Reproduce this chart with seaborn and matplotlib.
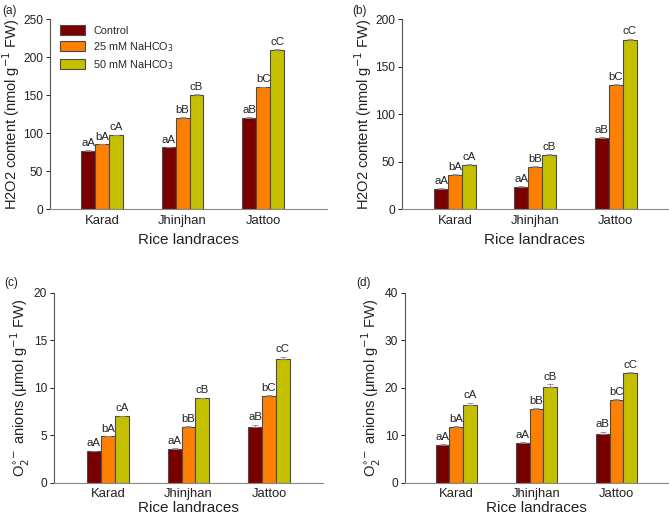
import numpy as np
import pandas as pd
import matplotlib
matplotlib.use("Agg")
import matplotlib.pyplot as plt
import seaborn as sns

sns.set_style("ticks")
plt.rcParams['font.family'] = ['Liberation Sans', 'DejaVu Sans']

landraces = ["Karad", "Jhinjhan", "Jattoo"]
treatments = ["Control", "25 mM NaHCO$_3$", "50 mM NaHCO$_3$"]
colors = ["#7a0000", "#ff8000", "#c4c000"]

# panel values: rows = treatment, cols = landrace
h2o2_a = [[76, 81, 120], [85, 120, 160], [97, 150, 209]]
h2o2_a_err = [[1.0, 0.8, 1.2], [0.8, 1.0, 1.0], [1.0, 1.0, 1.5]]
h2o2_b = [[21.5, 23.5, 75], [36, 44.5, 130.5], [46.5, 57, 178]]
h2o2_b_err = [[0.5, 0.5, 0.8], [0.5, 0.6, 0.8], [0.5, 0.6, 1.2]]
o2_c = [[3.35, 3.6, 5.85], [4.9, 5.9, 9.15], [7.0, 8.9, 13.0]]
o2_c_err = [[0.05, 0.1, 0.3], [0.05, 0.05, 0.1], [0.08, 0.08, 0.3]]
o2_d = [[8.1, 8.5, 10.3], [11.8, 15.6, 17.5], [16.4, 20.2, 23.1]]
o2_d_err = [[0.1, 0.1, 0.5], [0.1, 0.1, 0.1], [0.5, 0.6, 0.2]]

letters = [["aA", "aA", "aB"], ["bA", "bB", "bC"], ["cA", "cB", "cC"]]

h2o2_label = "H2O2 content (nmol g$^{-1}$ FW)"
o2_label = "O$_2^{\\circ\\!-}$ anions (\u03bcmol g$^{-1}$ FW)"

panels = [
    dict(tag="(a)", vals=h2o2_a, err=h2o2_a_err, ymax=250, step=50, ylabel=h2o2_label,
         rect=[0.0747, 0.5965, 0.4143, 0.3668], xlim=(-0.646, 2.795), legend=True,
         tagpos=(0.004, 0.99), xlpad=4),
    dict(tag="(b)", vals=h2o2_b, err=h2o2_b_err, ymax=200, step=50, ylabel=h2o2_label,
         rect=[0.601, 0.5965, 0.397, 0.3668], xlim=(-0.658, 2.646), legend=False,
         tagpos=(0.527, 0.99), xlpad=4),
    dict(tag="(c)", vals=o2_c, err=o2_c_err, ymax=20, step=5, ylabel=o2_label,
         rect=[0.0807, 0.0676, 0.4021, 0.3668], xlim=(-0.67, 2.67), legend=False,
         tagpos=(0.007, 0.465), xlpad=1),
    dict(tag="(d)", vals=o2_d, err=o2_d_err, ymax=40, step=10, ylabel=o2_label,
         rect=[0.605, 0.0676, 0.393, 0.3668], xlim=(-0.646, 2.64), legend=False,
         tagpos=(0.532, 0.465), xlpad=1),
]

fig = plt.figure(figsize=(6.69, 5.18), dpi=100)

for p in panels:
    ax = fig.add_axes(p["rect"])
    rows = []
    for ti, t in enumerate(treatments):
        for li, l in enumerate(landraces):
            rows.append(dict(landrace=l, treatment=t, value=p["vals"][ti][li],
                             err=p["err"][ti][li], letter=letters[ti][li]))
    df = pd.DataFrame(rows)
    sns.barplot(data=df, x="landrace", y="value", hue="treatment", order=landraces,
                hue_order=treatments, palette=colors, width=0.52, gap=0,
                saturation=1, edgecolor="#4a4a4a", linewidth=0.8, errorbar=None,
                ax=ax, legend=p["legend"])

    # error bars and letters on top of each bar
    bars = [b for b in ax.patches if b.get_height() > 0][:9]
    for b, (_, r) in zip(bars, df.iterrows()):
        cx = b.get_x() + b.get_width() / 2
        top = b.get_height()
        ax.errorbar(cx, top, yerr=[[0], [r["err"]]], fmt="none", ecolor="#888888",
                    elinewidth=0.6, capsize=2, capthick=0.6)
        ax.text(cx, top + r["err"] + p["ymax"] * 0.012, r["letter"], ha="center",
                va="bottom", fontsize=8.2, color="#222222")

    ax.set_xlim(*p["xlim"])
    ax.set_ylim(0, p["ymax"])
    ax.set_yticks(np.arange(0, p["ymax"] + 1, p["step"]))
    ax.tick_params(axis="y", direction="out", length=3, width=0.7, labelsize=8.6,
                   colors="#222222", pad=2)
    ax.tick_params(axis="x", length=0, labelsize=9.4, pad=4.5 if p["xlpad"] > 2 else 3.5,
                   colors="#222222")
    ax.set_xlabel("Rice landraces", fontsize=11, color="#222222", labelpad=p["xlpad"])
    ax.set_ylabel(p["ylabel"], fontsize=10.5, color="#222222", labelpad=1)
    sns.despine(ax=ax)
    ax.spines["left"].set_color("#555555")
    ax.spines["bottom"].set_color("#888888")
    ax.spines["left"].set_linewidth(0.8)
    ax.spines["bottom"].set_linewidth(0.8)

    if p["legend"]:
        ax.legend(loc="upper left", bbox_to_anchor=(0.0, 1.02), frameon=False,
                  fontsize=7.8, handlelength=2.3, handleheight=1.0,
                  labelspacing=0.4, title=None)

    fig.text(p["tagpos"][0], p["tagpos"][1], p["tag"], fontsize=8.5, va="top",
             ha="left", color="#222222")

fig.savefig("out.png", dpi=100)
